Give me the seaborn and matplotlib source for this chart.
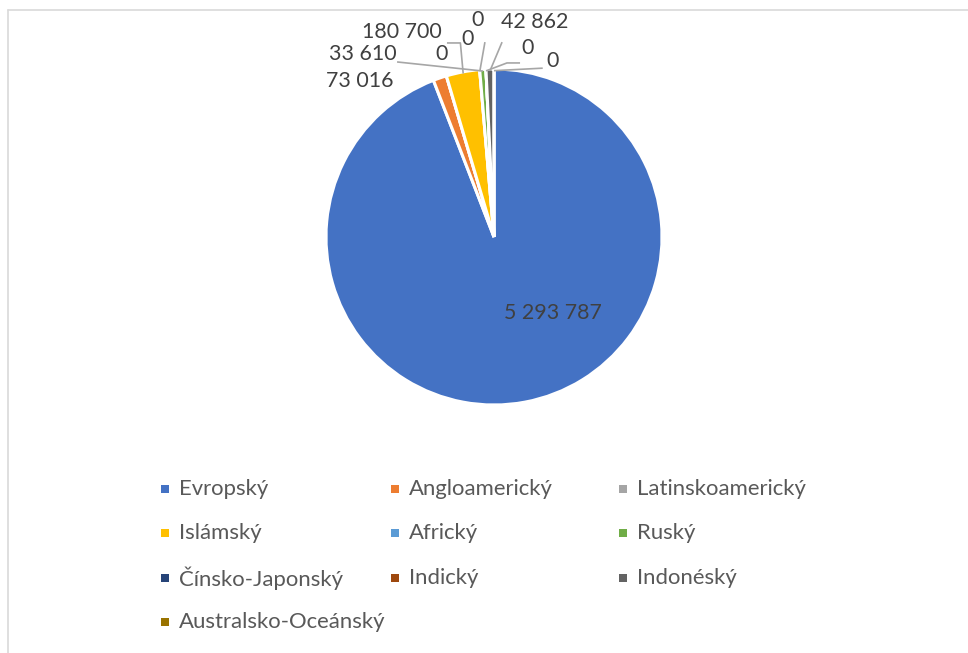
import numpy as np
import matplotlib
matplotlib.use("Agg")
import matplotlib.pyplot as plt
import seaborn as sns
from matplotlib.lines import Line2D
from matplotlib.patches import Rectangle

sns.set_style("white")
plt.rcParams['font.family'] = ['Lato', 'DejaVu Sans']

# ---- data ----
categories = ["Evropský", "Angloamerický", "Latinskoamerický", "Islámský", "Africký",
              "Ruský", "Čínsko-Japonský", "Indický", "Indonéský", "Australsko-Oceánský"]
values = [5293787, 73016, 0, 180700, 0, 33610, 0, 0, 42862, 0]
value_labels = ["5 293 787", "73 016", "0", "180 700", "0", "33 610", "0", "0", "42 862", "0"]
colors = ["#4472C4", "#ED7D31", "#A5A5A5", "#FFC000", "#5B9BD5",
          "#70AD47", "#264478", "#9E480E", "#636363", "#997300"]

# label positions in pie units (radius = 1)
label_pos = [(0.35, -0.45), (-0.80, 0.93), (-0.31, 1.09), (-0.55, 1.22), (-0.155, 1.18),
             (-0.78, 1.09), (-0.10, 1.29), (0.20, 1.125), (0.24, 1.28), (0.35, 1.05)]
# leader line starting points (None = no leader)
leader_from = [None, None, None, [(-0.28, 1.155), (-0.20, 1.155)], [(-0.054, 1.16)],
               [(-0.577, 1.042)], None, [(0.155, 1.036), (0.077, 1.036)],
               [(0.048, 1.16)], [(0.29, 1.005)]]

W, H = 968, 653
fig = plt.figure(figsize=(W / 100, H / 100), dpi=100)
ax = fig.add_axes([0, 0, 1, 1])
cx, cy, R = 494, 237, 168
ax.axis("off")

wedges, _ = ax.pie(values, colors=colors, startangle=90, counterclock=False,
                   radius=1.0, center=(0, 0),
                   wedgeprops=dict(edgecolor="white", linewidth=2.2))
ax.set_xlim(-cx / R, (W - cx) / R)
ax.set_ylim(-(H - cy) / R, cy / R)
ax.set_aspect("auto")

txt_color = "#404040"
for i, (w, lab, pos) in enumerate(zip(wedges, value_labels, label_pos)):
    ax.text(pos[0], pos[1], lab, ha="center", va="center", fontsize=15.4, color=txt_color)
    if leader_from[i] is not None:
        ang = np.deg2rad((w.theta1 + w.theta2) / 2)
        end = (np.cos(ang) * 0.99, np.sin(ang) * 0.99)
        pts = leader_from[i] + [end]
        xs = [p[0] for p in pts]
        ys = [p[1] for p in pts]
        ax.plot(xs, ys, color="#A6A6A6", lw=1.2, solid_capstyle="butt")

# ---- legend (row-major, 3 columns) ----
col_x = [165, 395, 623]
row_y = [489, 533, 578, 622]
leg_color = "#595959"
for i, (cat, col) in enumerate(zip(categories, colors)):
    r, c = divmod(i, 3)
    x, y = col_x[c], row_y[r]
    fig.add_artist(Rectangle(((x - 4) / W, 1 - (y + 4) / H), 8 / W, 8 / H,
                             transform=fig.transFigure, facecolor=col, edgecolor="none"))
    fig.text((x + 14) / W, 1 - y / H, cat, ha="left", va="center",
             fontsize=15.9, color=leg_color)

# chart border
fig.add_artist(Line2D([8 / W, 1], [1 - 9.5 / H, 1 - 9.5 / H], transform=fig.transFigure,
                      color="#D9D9D9", lw=1.2))
fig.add_artist(Line2D([8 / W, 8 / W], [0, 1 - 9.5 / H], transform=fig.transFigure,
                      color="#D9D9D9", lw=1.2))

fig.savefig("out.png", dpi=100)
